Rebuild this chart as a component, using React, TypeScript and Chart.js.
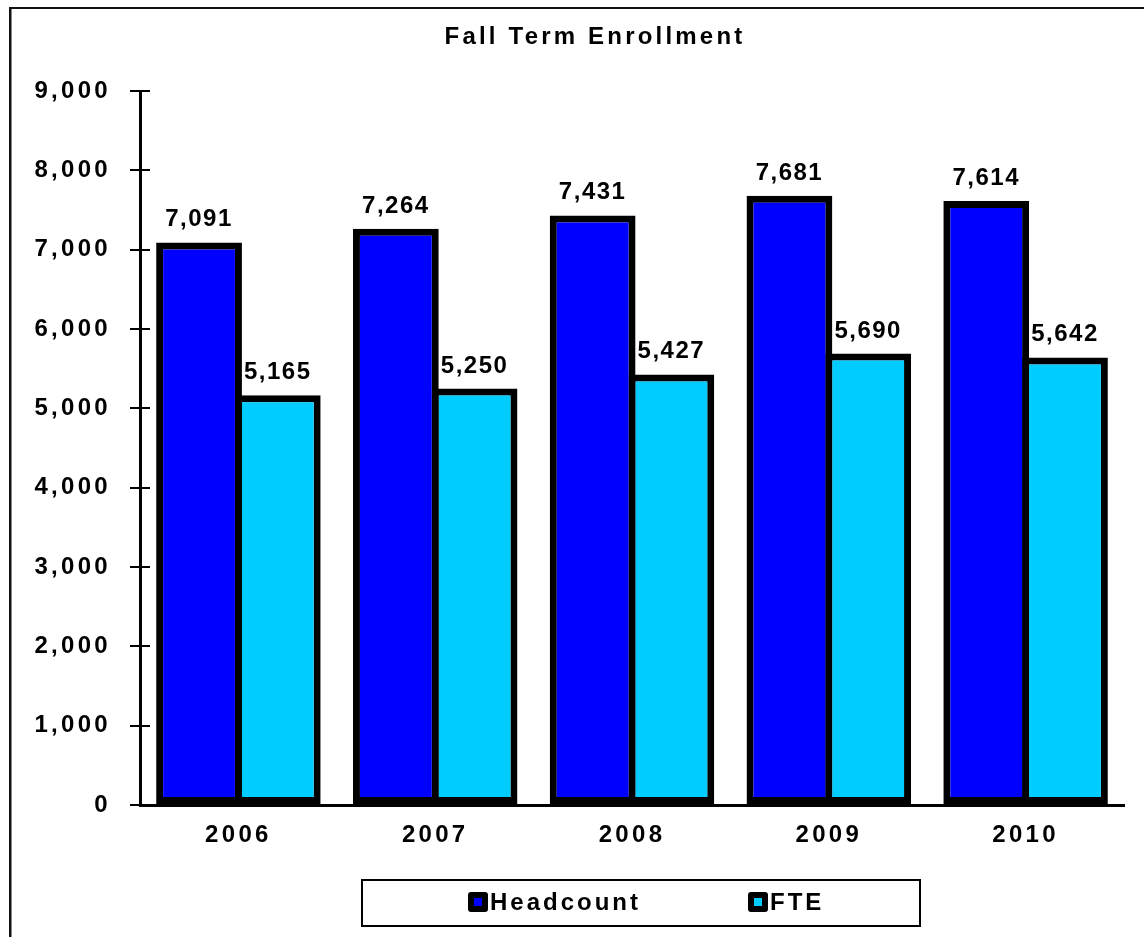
import React, { useEffect, useRef } from 'react';
import { Chart, registerables } from 'chart.js';

Chart.register(...registerables);

const years: string[] = ['2006', '2007', '2008', '2009', '2010'];
const headcount: number[] = [7091, 7264, 7431, 7681, 7614];
const fte: number[] = [5165, 5250, 5427, 5690, 5642];
const seriesNames: string[] = ['Headcount', 'FTE'];
const seriesColors: string[] = ['#0000FF', '#00CCFF'];
const yMin = 0;
const yMax = 9000;
const yStep = 1000;
const chartTitle = 'Fall Term Enrollment';

const FONT = '"Liberation Sans", Arial, Helvetica, sans-serif';
const fmt = (v: number) => v.toLocaleString('en-US');

const align = (p: number, w: number) => Math.round(p - w / 2) + w / 2;

const decorPlugin = {
  id: 'decor',
  beforeDraw(chart: any) {
    const ctx = chart.ctx as any;
    ctx.letterSpacing = '3.3px';
  },
  afterDraw(chart: any) {
    const ctx = chart.ctx as any;
    const { left } = chart.chartArea;
    ctx.save();

    // frame (left + top lines)
    ctx.fillStyle = '#111';
    ctx.fillRect(9, 7, 2.5, chart.height - 7);
    ctx.fillRect(9, 7, chart.width - 9, 2);

    // inner half of the crossing tick marks on the y axis
    const ys = chart.scales.y;
    ctx.strokeStyle = '#000';
    ctx.lineWidth = 2;
    ys.ticks.forEach((t: any) => {
      const py = align(ys.getPixelForValue(t.value), 2);
      ctx.beginPath();
      ctx.moveTo(left, py);
      ctx.lineTo(left + 10, py);
      ctx.stroke();
    });

    // value labels
    ctx.fillStyle = '#000';
    ctx.font = `bold 24px ${FONT}`;
    ctx.letterSpacing = '1.5px';
    ctx.textAlign = 'center';
    ctx.textBaseline = 'alphabetic';
    chart.data.datasets.forEach((ds: any, di: number) => {
      const meta = chart.getDatasetMeta(di);
      meta.data.forEach((bar: any, i: number) => {
        ctx.fillText(fmt(ds.data[i]), bar.x, bar.y - 16);
      });
    });

    // title
    ctx.letterSpacing = '3.2px';
    ctx.textBaseline = 'middle';
    ctx.fillText(chartTitle, 595, 37);

    // legend
    const bx = 361, by = 879, bw = 560, bh = 48;
    ctx.lineWidth = 2;
    ctx.strokeStyle = '#000';
    ctx.strokeRect(bx + 1, by + 1, bw - 2, bh - 2);
    const n = chart.data.datasets.length;
    const colW = bw / n;
    ctx.textAlign = 'left';
    ctx.letterSpacing = '3px';
    ctx.font = `bold 24px ${FONT}`;
    chart.data.datasets.forEach((ds: any, i: number) => {
      const mx = bx + i * colW + 107;
      const my = by + 13;
      ctx.fillStyle = '#000';
      ctx.beginPath();
      if (ctx.roundRect) ctx.roundRect(mx, my, 20, 20, 3);
      else ctx.rect(mx, my, 20, 20);
      ctx.fill();
      ctx.fillStyle = ds.backgroundColor;
      ctx.fillRect(mx + 6, my + 6, 8, 8);
      ctx.fillStyle = '#000';
      ctx.fillText(ds.label, mx + 22, my + 11);
    });

    ctx.restore();
  },
};

export default function App() {
  const ref = useRef<HTMLCanvasElement | null>(null);

  useEffect(() => {
    document.body.style.margin = '0';
    document.body.style.overflow = 'hidden';
    const canvas = ref.current;
    if (!canvas) return;
    const chart = new Chart(canvas, {
      type: 'bar',
      data: {
        labels: years,
        datasets: [
          {
            label: seriesNames[0],
            data: headcount,
            backgroundColor: seriesColors[0],
            borderColor: '#000',
            borderWidth: 7,
            borderSkipped: false,
          },
          {
            label: seriesNames[1],
            data: fte,
            backgroundColor: seriesColors[1],
            borderColor: '#000',
            borderWidth: 7,
            borderSkipped: false,
          },
        ],
      },
      options: {
        responsive: false,
        animation: false,
        devicePixelRatio: 1,
        layout: { padding: { left: 0, right: 20, top: 91, bottom: 72 } },
        datasets: {
          bar: { categoryPercentage: 0.8, barPercentage: 1.09 },
        },
        plugins: {
          legend: { display: false },
          title: { display: false },
          tooltip: { enabled: false },
        },
        scales: {
          x: {
            grid: { display: false, drawTicks: false, tickLength: 0 },
            border: { display: true, color: '#000', width: 3 },
            ticks: {
              color: '#000',
              padding: 16,
              font: { family: FONT, size: 24, weight: 'bold' },
            },
            afterFit: (s: any) => {
              s.height = 60;
            },
          },
          y: {
            min: yMin,
            max: yMax,
            ticks: {
              stepSize: yStep,
              color: '#000',
              padding: 19,
              font: { family: FONT, size: 24, weight: 'bold' },
              callback: (v: any) => fmt(Number(v)),
            },
            grid: {
              display: true,
              drawOnChartArea: false,
              drawTicks: true,
              tickLength: 10,
              color: '#000',
              lineWidth: 2,
            },
            border: { display: true, color: '#000', width: 3 },
            afterFit: (s: any) => {
              s.width = 140;
            },
          },
        },
      },
      plugins: [decorPlugin],
    } as any);
    return () => chart.destroy();
  }, []);

  return (
    <div style={{ width: 1144, height: 937, position: 'relative', background: '#fff' }}>
      <canvas ref={ref} width={1144} height={937} style={{ display: 'block' }} />
    </div>
  );
}
